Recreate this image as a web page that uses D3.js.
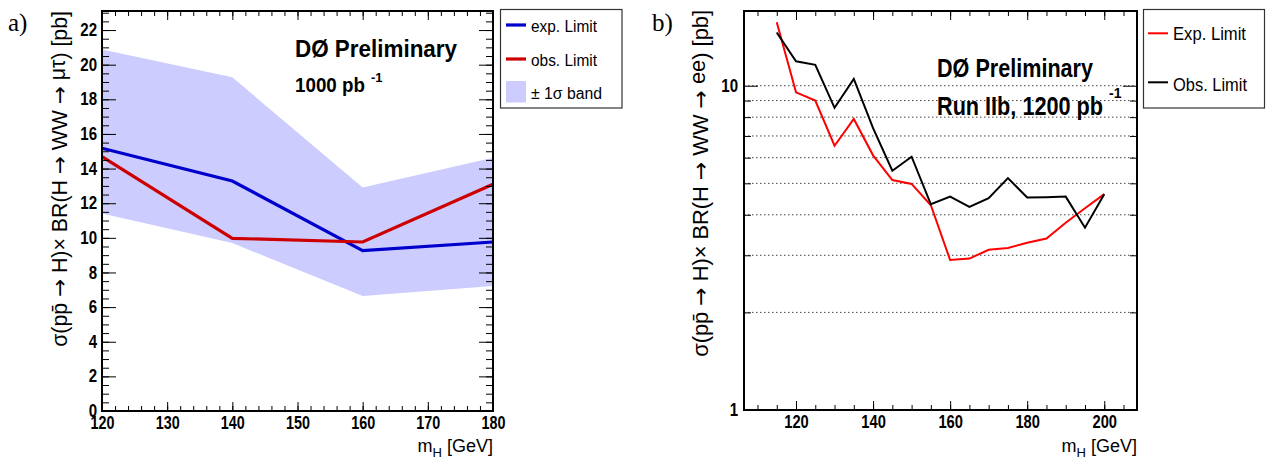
<!DOCTYPE html>
<html><head><meta charset="utf-8">
<script src="https://cdn.jsdelivr.net/npm/d3@7"></script>
<style>
body{margin:0;background:#fff}
svg{display:block}
text{font-family:"Liberation Sans",Arial,Helvetica,sans-serif}
.arr{font-family:"DejaVu Sans",sans-serif}
</style>
</head><body>
<script>
// ---------- data: panel a (mu-tau) ----------
const massA   = [120, 140, 160, 180];
const expA    = [15.17, 13.28, 9.26, 9.76];
const obsA    = [14.69, 9.97, 9.76, 13.09];
const bandHiA = [20.87, 19.27, 12.9, 14.63];
const bandLoA = [11.4, 9.7, 6.64, 7.22];
const xTicksA = [120, 130, 140, 150, 160, 170, 180];
const yTicksA = [0, 2, 4, 6, 8, 10, 12, 14, 16, 18, 20, 22];

// ---------- data: panel b (ee) ----------
const massB = [115, 120, 125, 130, 135, 140, 145, 150, 155, 160, 165, 170, 175, 180, 185, 190, 195, 200];
const expB  = [15.7, 9.54, 9.0, 6.53, 7.9, 6.1, 5.12, 4.98, 4.28, 2.9, 2.93, 3.12, 3.16, 3.28, 3.38, 3.78, 4.19, 4.63];
const obsB  = [14.6, 11.9, 11.6, 8.55, 10.5, 7.4, 5.47, 6.04, 4.31, 4.55, 4.23, 4.5, 5.19, 4.52, 4.53, 4.55, 3.65, 4.63];
const xTicksB = [120, 140, 160, 180, 200];
const yTicksB = [1, 10];
const gridB   = [2, 3, 4, 5, 6, 7, 8, 9, 10];

const legendA = ["exp. Limit", "obs. Limit", "\u00B1 1\u03C3 band"];
const legendB = ["Exp. Limit", "Obs. Limit"];

const W = 1266, H = 459;
const svg = d3.select("body").append("svg").attr("width", W).attr("height", H);
svg.append("rect").attr("width", W).attr("height", H).attr("fill", "#fff");

function fit(sel, len) {
  sel.attr("textLength", len).attr("lengthAdjust", "spacingAndGlyphs");
}
function condense(sel, r) {
  sel.each(function () {
    const l = this.getComputedTextLength();
    d3.select(this).attr("textLength", l * r).attr("lengthAdjust", "spacingAndGlyphs");
  });
}
function fitSize(sel, target) {
  const node = sel.node();
  const fs = +sel.attr("font-size");
  const l = node.getComputedTextLength();
  sel.attr("font-size", fs * target / l);
}
function styleAxis(g, fs) {
  g.select(".domain").remove();
  g.selectAll("line").attr("stroke", "#000").attr("stroke-width", 1);
  g.selectAll("text").attr("fill", "#000").attr("font-size", fs).attr("font-weight", "bold")
    .style("font-family", '"Liberation Sans",Arial,sans-serif');
}
function yTitle(g, tx, ty, last, rise, len) {
  const t = g.append("text").attr("transform", `translate(${tx},${ty}) rotate(-90)`)
    .attr("text-anchor", "end").attr("font-size", 20);
  t.append("tspan").text("\u03C3(pp\u0304 ");
  t.append("tspan").attr("class", "arr").text("\u2192");
  t.append("tspan").text(" H)\u00D7 BR(H ");
  t.append("tspan").attr("class", "arr").text("\u2192");
  t.append("tspan").text(" WW  ");
  t.append("tspan").attr("class", "arr").text("\u2192");
  t.append("tspan").text(" ");
  t.append("tspan").attr("dy", -rise).text(last);
  t.append("tspan").attr("dy", rise).text(") [pb]");
  fitSize(t, len);
  return t;
}

// ================= PANEL A =================
const A = {l: 102, r: 493, t: 11, b: 411};
const xA = d3.scaleLinear([120, 180], [A.l, A.r]);
const yA = d3.scaleLinear([0, 23.1], [A.b, A.t]);
const gA = svg.append("g");

gA.append("path")
  .attr("d", d3.area().x((d, i) => xA(massA[i])).y0((d, i) => yA(bandLoA[i])).y1((d, i) => yA(bandHiA[i]))(massA))
  .attr("fill", "#ccccff");
gA.append("path")
  .attr("d", d3.line().x((d, i) => xA(massA[i])).y((d) => yA(d))(expA))
  .attr("fill", "none").attr("stroke", "#0000cc").attr("stroke-width", 3.2).attr("stroke-linejoin", "miter");
gA.append("path")
  .attr("d", d3.line().x((d, i) => xA(massA[i])).y((d) => yA(d))(obsA))
  .attr("fill", "none").attr("stroke", "#cc0000").attr("stroke-width", 3.2).attr("stroke-linejoin", "miter");

// axes a
let ax;
ax = gA.append("g").attr("transform", `translate(0,${A.b})`)
  .call(d3.axisBottom(xA).tickValues(xTicksA).tickSize(-9).tickPadding(6));
styleAxis(ax, 17.5); condense(ax.selectAll("text"), 0.82);
ax = gA.append("g").attr("transform", `translate(0,${A.b})`)
  .call(d3.axisBottom(xA).tickValues(d3.range(120, 181, 2)).tickSize(-5).tickFormat(""));
styleAxis(ax, 17);
ax = gA.append("g").attr("transform", `translate(0,${A.t})`)
  .call(d3.axisTop(xA).tickValues(xTicksA).tickSize(-9).tickFormat(""));
styleAxis(ax, 17);
ax = gA.append("g").attr("transform", `translate(0,${A.t})`)
  .call(d3.axisTop(xA).tickValues(d3.range(120, 181, 2)).tickSize(-5).tickFormat(""));
styleAxis(ax, 17);
ax = gA.append("g").attr("transform", `translate(${A.l},0)`)
  .call(d3.axisLeft(yA).tickValues(yTicksA).tickSize(-14).tickPadding(5));
styleAxis(ax, 17.5); condense(ax.selectAll("text"), 0.86);
ax = gA.append("g").attr("transform", `translate(${A.l},0)`)
  .call(d3.axisLeft(yA).tickValues(d3.range(0, 23.1, 0.5)).tickSize(-7).tickFormat(""));
styleAxis(ax, 17);
ax = gA.append("g").attr("transform", `translate(${A.r},0)`)
  .call(d3.axisRight(yA).tickValues(yTicksA).tickSize(-14).tickFormat(""));
styleAxis(ax, 17);
ax = gA.append("g").attr("transform", `translate(${A.r},0)`)
  .call(d3.axisRight(yA).tickValues(d3.range(0, 23.1, 0.5)).tickSize(-7).tickFormat(""));
styleAxis(ax, 17);

gA.append("rect").attr("x", A.l).attr("y", A.t).attr("width", A.r - A.l).attr("height", A.b - A.t)
  .attr("fill", "none").attr("stroke", "#000").attr("stroke-width", 2);

// texts a
gA.append("text").attr("x", 295).attr("y", 57).attr("font-size", 24).attr("font-weight", "bold")
  .text("D\u00D8 Preliminary").call(fit, 162);
gA.append("text").attr("x", 295).attr("y", 92).attr("font-size", 21).attr("font-weight", "bold")
  .text("1000 pb").call(fit, 70);
gA.append("text").attr("x", 371).attr("y", 82).attr("font-size", 13).attr("font-weight", "bold")
  .text("-1");

// legend a
gA.append("rect").attr("x", 500.5).attr("y", 9.5).attr("width", 121.5).attr("height", 98.5)
  .attr("fill", "#fff").attr("stroke", "#333").attr("stroke-width", 1.2);
gA.append("line").attr("x1", 506).attr("x2", 526).attr("y1", 25).attr("y2", 25)
  .attr("stroke", "#0000cc").attr("stroke-width", 3.2);
gA.append("line").attr("x1", 506).attr("x2", 526).attr("y1", 59).attr("y2", 59)
  .attr("stroke", "#cc0000").attr("stroke-width", 3.2);
gA.append("rect").attr("x", 506).attr("y", 81).attr("width", 20).attr("height", 21.5).attr("fill", "#ccccff");
const legYA = [31.5, 66, 98.5], legWA = [66, 66, 71];
legendA.forEach((t, i) => {
  gA.append("text").attr("x", 531).attr("y", legYA[i]).attr("font-size", 16).text(t).call(fit, legWA[i]);
});

// axis titles a
const xlA = gA.append("text").attr("x", A.r).attr("y", 452).attr("text-anchor", "end").attr("font-size", 18);
xlA.append("tspan").text("m");
xlA.append("tspan").attr("font-size", 13).attr("dy", 5).text("H");
xlA.append("tspan").attr("dy", -5).text(" [GeV]");

yTitle(gA, 67, 11, "\u03BC\u03C4", 2, 336);

gA.append("text").attr("x", 8).attr("y", 31).attr("font-size", 25)
  .style("font-family", '"Liberation Serif","DejaVu Serif",serif').text("a)");

// ================= PANEL B =================
const B = {l: 744, r: 1137, t: 11, b: 410};
const xB = d3.scaleLinear([106.5, 208.5], [B.l, B.r]);
const yB = d3.scaleLog([1, 17], [B.b, B.t]);
const gB = svg.append("g");

gB.selectAll("line.grid").data(gridB).enter().append("line")
  .attr("x1", B.l).attr("x2", B.r).attr("y1", (d) => yB(d)).attr("y2", (d) => yB(d))
  .attr("stroke", "#444").attr("stroke-width", 1).attr("stroke-dasharray", "1.5,2.5");

gB.append("path")
  .attr("d", d3.line().x((d, i) => xB(massB[i])).y((d) => yB(d))(expB))
  .attr("fill", "none").attr("stroke", "#ff0000").attr("stroke-width", 2);
gB.append("path")
  .attr("d", d3.line().x((d, i) => xB(massB[i])).y((d) => yB(d))(obsB))
  .attr("fill", "none").attr("stroke", "#000").attr("stroke-width", 2);

ax = gB.append("g").attr("transform", `translate(0,${B.b})`)
  .call(d3.axisBottom(xB).tickValues(xTicksB).tickSize(-9).tickPadding(6));
styleAxis(ax, 17.5); condense(ax.selectAll("text"), 0.84);
ax = gB.append("g").attr("transform", `translate(0,${B.b})`)
  .call(d3.axisBottom(xB).tickValues(d3.range(110, 206, 5)).tickSize(-5).tickFormat(""));
styleAxis(ax, 17);
ax = gB.append("g").attr("transform", `translate(0,${B.t})`)
  .call(d3.axisTop(xB).tickValues(xTicksB).tickSize(-9).tickFormat(""));
styleAxis(ax, 17);
ax = gB.append("g").attr("transform", `translate(0,${B.t})`)
  .call(d3.axisTop(xB).tickValues(d3.range(110, 206, 5)).tickSize(-5).tickFormat(""));
styleAxis(ax, 17);
ax = gB.append("g").attr("transform", `translate(${B.l},0)`)
  .call(d3.axisLeft(yB).tickValues(yTicksB).tickFormat(d3.format("d")).tickSize(-14).tickPadding(6));
styleAxis(ax, 17.5); condense(ax.selectAll("text"), 0.86);
ax = gB.append("g").attr("transform", `translate(${B.l},0)`)
  .call(d3.axisLeft(yB).tickValues(gridB.slice(0, 8)).tickSize(-7).tickFormat(""));
styleAxis(ax, 17);
ax = gB.append("g").attr("transform", `translate(${B.r},0)`)
  .call(d3.axisRight(yB).tickValues(yTicksB).tickSize(-14).tickFormat(""));
styleAxis(ax, 17);
ax = gB.append("g").attr("transform", `translate(${B.r},0)`)
  .call(d3.axisRight(yB).tickValues(gridB.slice(0, 8)).tickSize(-7).tickFormat(""));
styleAxis(ax, 17);

gB.append("rect").attr("x", B.l).attr("y", B.t).attr("width", B.r - B.l).attr("height", B.b - B.t)
  .attr("fill", "none").attr("stroke", "#000").attr("stroke-width", 2);

// texts b
gB.append("text").attr("x", 937).attr("y", 77).attr("font-size", 25).attr("font-weight", "bold")
  .text("D\u00D8 Preliminary").call(fit, 156);
gB.append("text").attr("x", 937).attr("y", 115).attr("font-size", 25).attr("font-weight", "bold")
  .text("Run IIb, 1200 pb").call(fit, 166);
gB.append("text").attr("x", 1109).attr("y", 98).attr("font-size", 14).attr("font-weight", "bold")
  .text("-1");

// legend b
gB.append("rect").attr("x", 1143.5).attr("y", 9.5).attr("width", 121).attr("height", 98.5)
  .attr("fill", "#fff").attr("stroke", "#333").attr("stroke-width", 1.2);
gB.append("line").attr("x1", 1148).attr("x2", 1168).attr("y1", 33.3).attr("y2", 33.3)
  .attr("stroke", "#ff0000").attr("stroke-width", 2);
gB.append("line").attr("x1", 1148).attr("x2", 1168).attr("y1", 82.3).attr("y2", 82.3)
  .attr("stroke", "#000").attr("stroke-width", 2);
const legYB = [40, 90.5], legWB = [73, 74];
legendB.forEach((t, i) => {
  gB.append("text").attr("x", 1173).attr("y", legYB[i]).attr("font-size", 19).text(t).call(fit, legWB[i]);
});

const xlB = gB.append("text").attr("x", B.r).attr("y", 452).attr("text-anchor", "end").attr("font-size", 18);
xlB.append("tspan").text("m");
xlB.append("tspan").attr("font-size", 13).attr("dy", 5).text("H");
xlB.append("tspan").attr("dy", -5).text(" [GeV]");

yTitle(gB, 708, 10, "ee", 3, 347);

gB.append("text").attr("x", 652).attr("y", 31).attr("font-size", 25)
  .style("font-family", '"Liberation Serif","DejaVu Serif",serif').text("b)");
</script>
</body></html>
